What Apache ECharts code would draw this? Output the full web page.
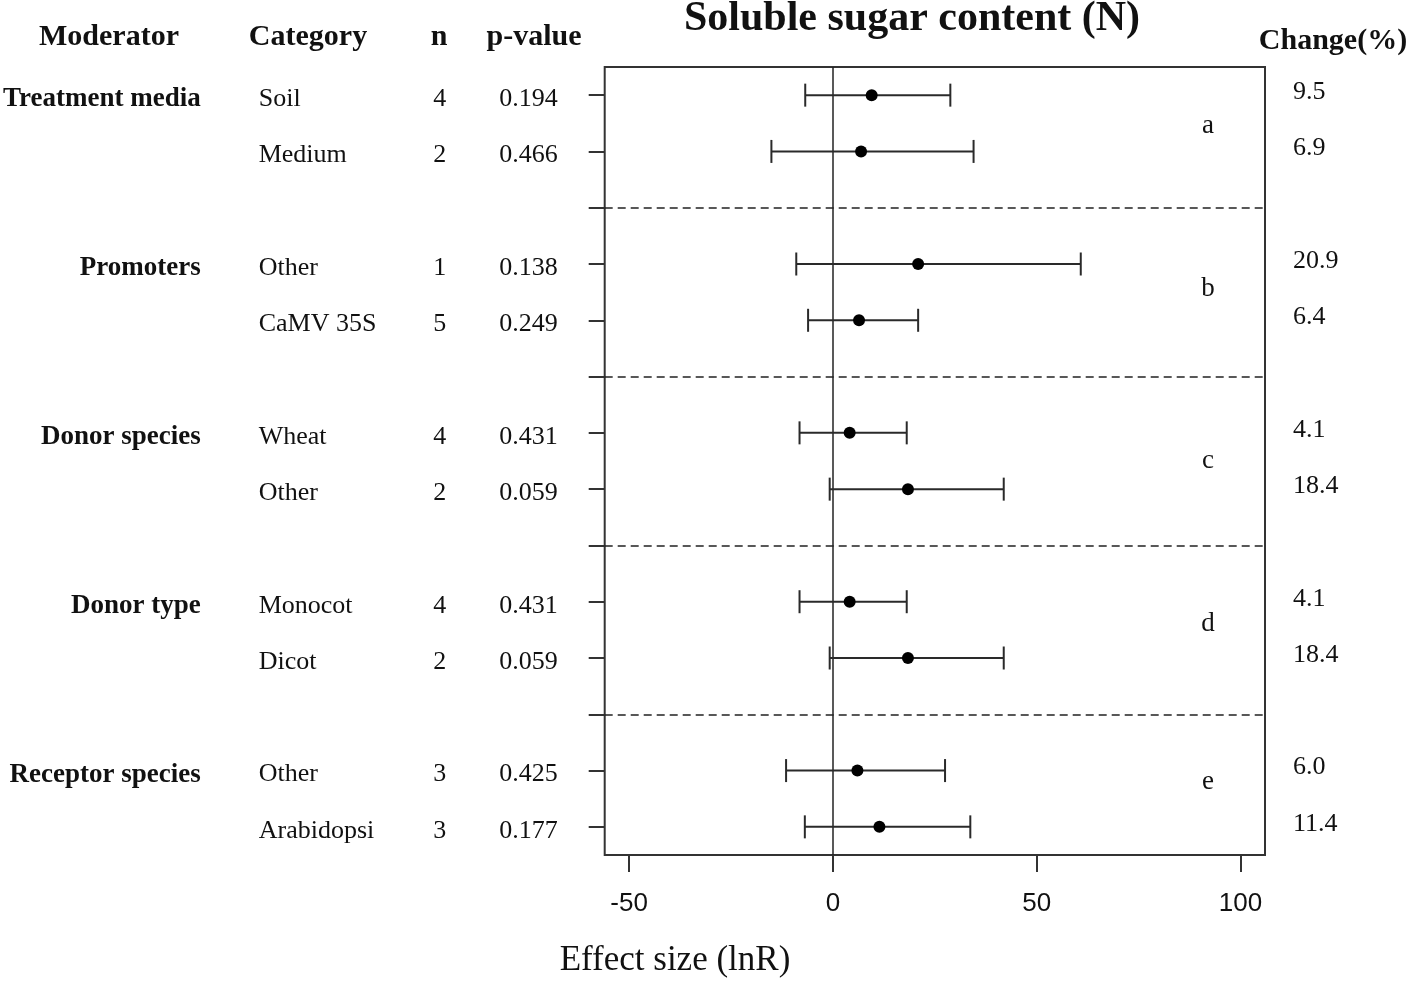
<!DOCTYPE html>
<html>
<head>
<meta charset="utf-8">
<script src="https://cdn.jsdelivr.net/npm/echarts@6/dist/echarts.min.js"></script>
<style>html,body{margin:0;padding:0;background:#fff;}#c{width:1418px;height:981px;}</style>
</head>
<body>
<div id="c"></div>
<script>
// ---- data ----
const moderators = ['Treatment media', 'Promoters', 'Donor species', 'Donor type', 'Receptor species'];
const categories = ['Soil', 'Medium', 'Other', 'CaMV 35S', 'Wheat', 'Other', 'Monocot', 'Dicot', 'Other', 'Arabidopsi'];
const nValues = ['4', '2', '1', '5', '4', '2', '4', '2', '3', '3'];
const pValues = ['0.194', '0.466', '0.138', '0.249', '0.431', '0.059', '0.431', '0.059', '0.425', '0.177'];
const effect = [9.5, 6.9, 20.9, 6.4, 4.1, 18.4, 4.1, 18.4, 6.0, 11.4];
const lower = [-6.8, -15.1, -9.0, -6.1, -8.2, -0.8, -8.2, -0.8, -11.5, -6.9];
const upper = [28.8, 34.5, 60.8, 20.9, 18.1, 41.9, 18.1, 41.9, 27.5, 33.7];
const changeLabels = ['9.5', '6.9', '20.9', '6.4', '4.1', '18.4', '4.1', '18.4', '6.0', '11.4'];
const groupLetters = ['a', 'b', 'c', 'd', 'e'];
const letterRow = [0.55, 3.45, 6.5, 9.4, 12.2];
const letterX = 92;
const xTicks = [-50, 0, 50, 100];

// ---- layout of rows: two rows per group, one separator slot between groups ----
const nSlots = moderators.length * 3 - 1;
const rowSlot = [];
for (let g = 0; g < moderators.length; g++) { rowSlot.push(3 * g, 3 * g + 1); }
const sepSlots = [];
for (let g = 0; g < moderators.length - 1; g++) sepSlots.push(3 * g + 2);

function slotArray(values, groupOnly) {
  const arr = new Array(nSlots).fill('');
  if (groupOnly) values.forEach((v, g) => { arr[3 * g] = v; });
  else values.forEach((v, i) => { arr[rowSlot[i]] = v; });
  return arr;
}
const slotIdx = Array.from({length: nSlots}, (_, i) => String(i));

const serif = "'Liberation Serif', 'DejaVu Serif', serif";
const sans = "'Liberation Sans', Arial, sans-serif";
const TXT = '#111';

// shift > 0 moves the text down by 'shift' pixels, < 0 moves it up
function labelAxis(values, groupOnly, margin, align, opts, shift) {
  const labels = slotArray(values, groupOnly);
  const s = shift === undefined ? 4 : shift;
  return Object.assign({
    type: 'category', data: slotIdx, inverse: true, position: 'left',
    gridIndex: 0, boundaryGap: true,
    axisLine: {show: false}, axisTick: {show: false}, splitLine: {show: false},
    axisLabel: {
      interval: 0, margin: margin, align: align, color: TXT,
      fontFamily: serif, fontSize: 26,
      verticalAlign: s >= 0 ? 'top' : 'bottom', lineHeight: Math.max(2, Math.abs(2 * s)),
      formatter: (v) => labels[+v]
    }
  }, opts || {});
}

function header(text, x, y, size, weight) {
  return {type: 'text', x: x, y: y, style: {text: text, font: (weight || 'bold') + ' ' + size + 'px ' + serif, fill: TXT,
    textAlign: 'center', textVerticalAlign: 'middle', align: 'center', verticalAlign: 'middle'}};
}

const chart = echarts.init(document.getElementById('c'));
const option = {
  backgroundColor: '#fff',
  animation: false,
  grid: {left: 604, right: 153, top: 67, bottom: 126, show: true, borderColor: '#333', borderWidth: 2, backgroundColor: 'transparent'},
  xAxis: {
    type: 'value', min: -56, max: 106,
    axisLine: {show: false, onZero: false}, splitLine: {show: false},
    axisTick: {show: true, customValues: xTicks, length: 17, lineStyle: {color: '#333', width: 2}},
    axisLabel: {customValues: xTicks, fontFamily: sans, fontSize: 26, color: TXT, margin: 36}
  },
  yAxis: [
    {type: 'value', min: -0.5, max: 13.5, inverse: true, show: false},
    labelAxis(pValues, false, 47, 'right', {
      axisTick: {show: true, alignWithLabel: true, interval: 0, length: 16, lineStyle: {color: '#333', width: 2}}
    }),
    labelAxis(nValues, false, 165, 'center'),
    labelAxis(categories, false, 346, 'left'),
    (function () { const a = labelAxis(moderators, true, 404, 'right'); a.axisLabel.fontWeight = 'bold'; a.axisLabel.fontSize = 27; return a; })(),
    labelAxis(changeLabels, false, 28, 'left', {position: 'right'}, -3)
  ],
  series: [
    {
      type: 'custom', xAxisIndex: 0, yAxisIndex: 0, clip: false,
      data: effect.map((e, i) => [lower[i], upper[i], e, rowSlot[i]]),
      renderItem: function (params, api) {
        const y = api.value(3);
        const pL = api.coord([api.value(0), y]);
        const pU = api.coord([api.value(1), y]);
        const pM = api.coord([api.value(2), y]);
        const cap = 11.5;
        const ls = {stroke: '#2a2a2a', lineWidth: 2};
        return {
          type: 'group', children: [
            {type: 'line', shape: {x1: pL[0], y1: pL[1], x2: pU[0], y2: pU[1]}, style: ls},
            {type: 'line', shape: {x1: pL[0], y1: pL[1] - cap, x2: pL[0], y2: pL[1] + cap}, style: ls},
            {type: 'line', shape: {x1: pU[0], y1: pU[1] - cap, x2: pU[0], y2: pU[1] + cap}, style: ls},
            {type: 'circle', shape: {cx: pM[0], cy: pM[1], r: 6}, style: {fill: '#000'}}
          ]
        };
      },
      z: 5
    },
    {
      type: 'line', xAxisIndex: 0, yAxisIndex: 0, data: [], silent: true,
      markLine: {
        silent: true, symbol: 'none', label: {show: false}, animation: false,
        data: [{xAxis: 0, lineStyle: {type: 'solid', color: '#222', width: 1.5}}]
          .concat(sepSlots.map(s => ({yAxis: s, lineStyle: {type: [8, 5], color: '#222', width: 1.5}})))
      }
    },
    {
      type: 'scatter', xAxisIndex: 0, yAxisIndex: 0, symbolSize: 1, silent: true,
      itemStyle: {opacity: 0},
      data: groupLetters.map((l, g) => ({value: [letterX, letterRow[g]], name: l})),
      label: {show: true, position: 'inside', formatter: p => p.name, fontFamily: serif, fontSize: 27, color: '#111', opacity: 1}
    }
  ],
  graphic: [
    header('Soluble sugar content (N)', 912, 19, 42),
    header('Moderator', 109, 37, 30),
    header('Category', 308, 37, 30),
    header('n', 439, 37, 30),
    header('p-value', 534, 37, 30),
    header('Change(%)', 1333, 41, 30),
    header('Effect size (lnR)', 675, 961, 35, 'normal')
  ]
};
chart.setOption(option);
</script>
</body>
</html>
